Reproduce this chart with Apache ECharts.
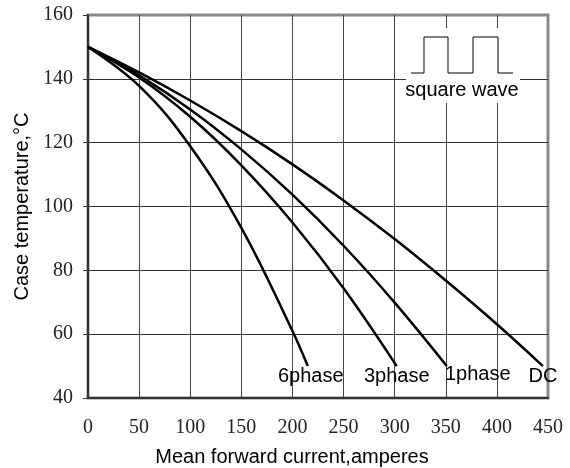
<!DOCTYPE html>
<html lang="en">
  <head>
    <meta charset="UTF-8" />
    <title>Case temperature vs mean forward current</title>
    <script src="https://cdn.jsdelivr.net/npm/echarts@6/dist/echarts.min.js"></script>
  </head>
  <style>
    body { margin: 0; background: #fff; }
  </style>
  <body>
    <div id="box" style="width: 570px; height: 468px"></div>
  </body>
  <script>
    // curves: [current A, case temp °C]
    var dc = [[0, 150], [50, 142], [100, 133.2], [150, 123.6], [200, 113.2], [250, 101.9], [300, 89.8], [350, 76.8], [400, 63.1], [445, 50]];
    var phase1 = [[0, 150], [50, 141.1], [100, 130.4], [150, 117.9], [200, 103.7], [250, 87.7], [300, 69.9], [351, 50]];
    var phase3 = [[0, 150], [50, 140.4], [100, 128.1], [150, 112.9], [200, 95], [250, 74.4], [302, 50]];
    var phase6 = [[0, 150], [50, 137.8], [100, 118.9], [150, 93.3], [200, 61], [215, 50]];
    var names = ["DC", "1phase", "3phase", "6phase"];
    var xTicks = [0, 450, 50];
    var yTicks = [40, 160, 20];

    var sans = "Liberation Sans";
    var serif = "Liberation Serif";

    function makeSeries(name, pts, lbl) {
      var data = pts.map(function (p) { return p.slice(); });
      var last = data.length - 1;
      data[last] = {
        value: data[last],
        label: Object.assign({ show: true, formatter: name, fontFamily: sans, fontSize: 20, color: "#000" }, lbl),
      };
      return {
        name: name,
        type: "line",
        smooth: 0.4,
        data: data,
        symbol: "circle",
        symbolSize: 0,
        showSymbol: true,
        lineStyle: { color: "#000", width: 2.5 },
        itemStyle: { color: "#000" },
        label: { show: false },
        z: 5,
      };
    }

    var myChart = echarts.init(document.getElementById("box"));
    var option = {
      animation: false,
      grid: {
        left: 88, right: 22, top: 15, bottom: 70,
        outerBoundsMode: "none",
        show: true, borderColor: "#888", borderWidth: 3,
      },
      xAxis: {
        type: "value",
        min: xTicks[0], max: xTicks[1], interval: xTicks[2],
        name: "Mean forward current,amperes",
        nameLocation: "middle",
        nameGap: 49,
        nameTextStyle: { fontFamily: sans, fontSize: 20, color: "#000", padding: [0, 52, 0, 0] },
        axisLine: { show: true, lineStyle: { color: "#333", width: 2 } },
        axisTick: { show: false },
        axisLabel: { fontFamily: serif, fontSize: 20, color: "#222", margin: 20 },
        splitLine: { show: true, showMinLine: false, showMaxLine: false, lineStyle: { color: "#444", width: 1 } },
      },
      yAxis: {
        type: "value",
        min: yTicks[0], max: yTicks[1], interval: yTicks[2],
        name: "Case temperature,°C",
        nameLocation: "middle",
        nameGap: 56,
        nameTextStyle: { fontFamily: sans, fontSize: 20, color: "#000" },
        axisLine: { show: true, lineStyle: { color: "#333", width: 2 } },
        axisTick: { show: true, inside: false, length: 5, lineStyle: { color: "#333" } },
        axisLabel: { fontFamily: serif, fontSize: 20, color: "#222", margin: 15 },
        splitLine: { show: true, showMinLine: false, showMaxLine: false, lineStyle: { color: "#333", width: 1 } },
      },
      series: [
        makeSeries(names[0], dc, { position: "bottom", distance: 0 }),
        makeSeries(names[1], phase1, { position: "bottom", distance: 0, offset: [31, -2] }),
        makeSeries(names[2], phase3, { position: "bottom", distance: 0 }),
        makeSeries(names[3], phase6, { position: "bottom", distance: 0, offset: [3, 0] }),
      ],
      // square wave inset
      graphic: [
        { type: "rect", z: 10, shape: { x: 406, y: 28, width: 114, height: 75 }, style: { fill: "#fff" } },
        {
          type: "polyline", z: 11,
          shape: { points: [[411, 73], [424, 73], [424, 37], [448, 37], [448, 73], [473, 73], [473, 37], [498, 37], [498, 73], [513, 73]] },
          style: { stroke: "#000", lineWidth: 1, fill: null },
        },
        {
          type: "text", z: 11, x: 462, y: 90,
          style: { text: "square wave", font: "20px " + sans, fill: "#000", align: "center", verticalAlign: "middle" },
        },
      ],
    };
    myChart.setOption(option);
  </script>
</html>
